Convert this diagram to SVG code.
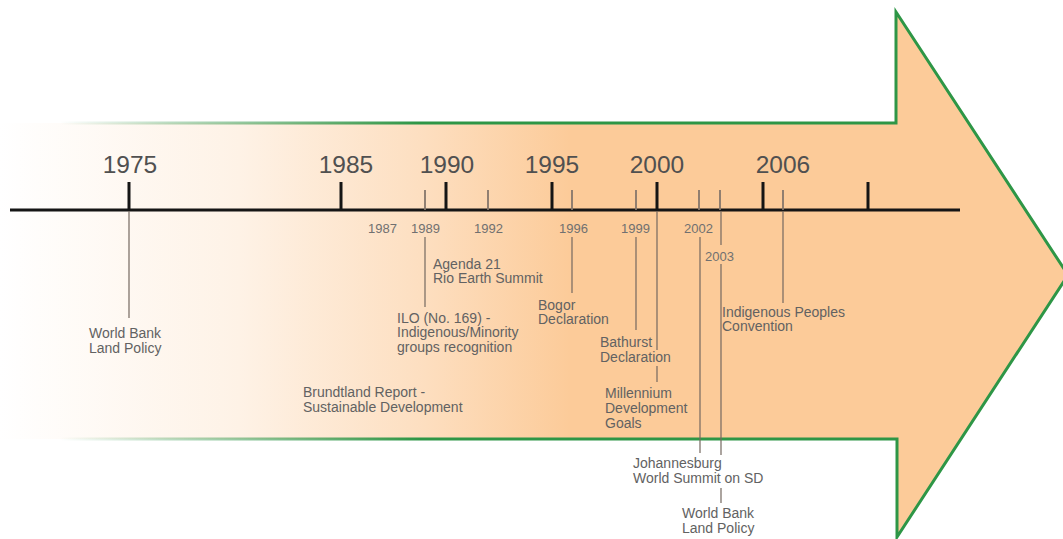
<svg xmlns="http://www.w3.org/2000/svg" width="1063" height="539" viewBox="0 0 1063 539">
<defs>
<linearGradient id="fillGrad" gradientUnits="userSpaceOnUse" x1="0" y1="0" x2="570" y2="0">
<stop offset="0" stop-color="#FFFFFF"/>
<stop offset="0.42" stop-color="#FEF2E6"/>
<stop offset="0.75" stop-color="#FDDEBF"/>
<stop offset="1" stop-color="#FCCB99"/>
</linearGradient>
<linearGradient id="strokeGrad" gradientUnits="userSpaceOnUse" x1="60" y1="0" x2="420" y2="0">
<stop offset="0" stop-color="#3A9A50" stop-opacity="0"/>
<stop offset="0.3" stop-color="#3A9A50" stop-opacity="0.35"/>
<stop offset="1" stop-color="#2E9646" stop-opacity="1"/>
</linearGradient>
<style>
.major{stroke:#151515;stroke-width:3;}
.minor{stroke:#85766b;stroke-width:1.8;}
.axis{stroke:#151515;stroke-width:3;}
.conn{stroke:#746860;stroke-width:1.2;fill:none;}
.big{font-family:"Liberation Sans",Arial,sans-serif;font-size:24.5px;fill:#505050;text-anchor:middle;}
.yr{font-family:"Liberation Sans",Arial,sans-serif;font-size:13px;fill:#707070;}
.lbl{font-family:"Liberation Sans",Arial,sans-serif;font-size:14px;fill:#626262;}
</style>
</defs>
<rect x="0" y="0" width="1063" height="539" fill="#FFFFFF"/>
<g id="arrow">
<path d="M0,123 L896,123 L896,12 L1068,275 L897,537 L897,439 L0,439 Z" fill="url(#fillGrad)"/>
<path d="M60,123 L896,123 L896,12 L1068,275 L897,537 L897,439 L60,439" fill="none" stroke="url(#strokeGrad)" stroke-width="3" stroke-linejoin="miter"/>
</g>
<g id="timeline">
<line class="axis" x1="10" y1="210" x2="960" y2="210"/>
<line class="major" x1="129" y1="182" x2="129" y2="210"/>
<line class="major" x1="341" y1="182" x2="341" y2="210"/>
<line class="major" x1="446" y1="182" x2="446" y2="210"/>
<line class="major" x1="552" y1="182" x2="552" y2="210"/>
<line class="major" x1="657" y1="182" x2="657" y2="210"/>
<line class="major" x1="763" y1="182" x2="763" y2="210"/>
<line class="major" x1="868" y1="182" x2="868" y2="210"/>
<line class="minor" x1="425" y1="190" x2="425" y2="210"/>
<line class="minor" x1="488" y1="190" x2="488" y2="210"/>
<line class="minor" x1="572" y1="190" x2="572" y2="210"/>
<line class="minor" x1="636" y1="190" x2="636" y2="210"/>
<line class="minor" x1="699" y1="190" x2="699" y2="210"/>
<line class="minor" x1="720" y1="190" x2="720" y2="210"/>
<line class="minor" x1="783" y1="190" x2="783" y2="210"/>
<text class="big" x="130" y="173">1975</text>
<text class="big" x="346" y="173">1985</text>
<text class="big" x="447" y="173">1990</text>
<text class="big" x="552" y="173">1995</text>
<text class="big" x="657" y="173">2000</text>
<text class="big" x="783" y="173">2006</text>
<text class="yr" x="368" y="233">1987</text>
<text class="yr" x="411" y="233">1989</text>
<text class="yr" x="474" y="233">1992</text>
<text class="yr" x="559" y="233">1996</text>
<text class="yr" x="621" y="233">1999</text>
<text class="yr" x="684" y="233">2002</text>
<text class="yr" x="705" y="261">2003</text>
</g>
<g id="connectors">
<line class="conn" x1="129" y1="211" x2="129" y2="318"/>
<line class="conn" x1="425" y1="237" x2="425" y2="307"/>
<line class="conn" x1="572" y1="237" x2="572" y2="293"/>
<line class="conn" x1="636" y1="237" x2="636" y2="330"/>
<line class="conn" x1="657" y1="211" x2="657" y2="350"/>
<line class="conn" x1="657" y1="366" x2="657" y2="382"/>
<line class="conn" x1="700" y1="237" x2="700" y2="453"/>
<line class="conn" x1="721" y1="211" x2="721" y2="245"/>
<line class="conn" x1="721" y1="264" x2="721" y2="455"/>
<line class="conn" x1="721" y1="488" x2="721" y2="503"/>
<line class="conn" x1="783" y1="211" x2="783" y2="303"/>
</g>
<g id="wb1975"><text class="lbl" x="89" y="338">World Bank</text><text class="lbl" x="89" y="353">Land Policy</text></g>
<g id="agenda21"><text class="lbl" x="433" y="269">Agenda 21</text><text class="lbl" x="433" y="283">Rio Earth Summit</text></g>
<g id="ilo169"><text class="lbl" x="397" y="323">ILO (No. 169) -</text><text class="lbl" x="397" y="337">Indigenous/Minority</text><text class="lbl" x="397" y="352">groups recognition</text></g>
<g id="brundtland"><text class="lbl" x="303" y="397">Brundtland Report -</text><text class="lbl" x="303" y="412">Sustainable Development</text></g>
<g id="bogor"><text class="lbl" x="538" y="310">Bogor</text><text class="lbl" x="538" y="324">Declaration</text></g>
<g id="bathurst"><text class="lbl" x="600" y="347">Bathurst</text><text class="lbl" x="600" y="362">Declaration</text></g>
<g id="mdg"><text class="lbl" x="605" y="398">Millennium</text><text class="lbl" x="605" y="413">Development</text><text class="lbl" x="605" y="428">Goals</text></g>
<g id="ipc"><text class="lbl" x="722" y="317">Indigenous Peoples</text><text class="lbl" x="722" y="331">Convention</text></g>
<g id="johannesburg"><text class="lbl" x="633" y="468">Johannesburg</text><text class="lbl" x="633" y="483">World Summit on SD</text></g>
<g id="wb2003"><text class="lbl" x="682" y="518">World Bank</text><text class="lbl" x="682" y="533">Land Policy</text></g>
</svg>
